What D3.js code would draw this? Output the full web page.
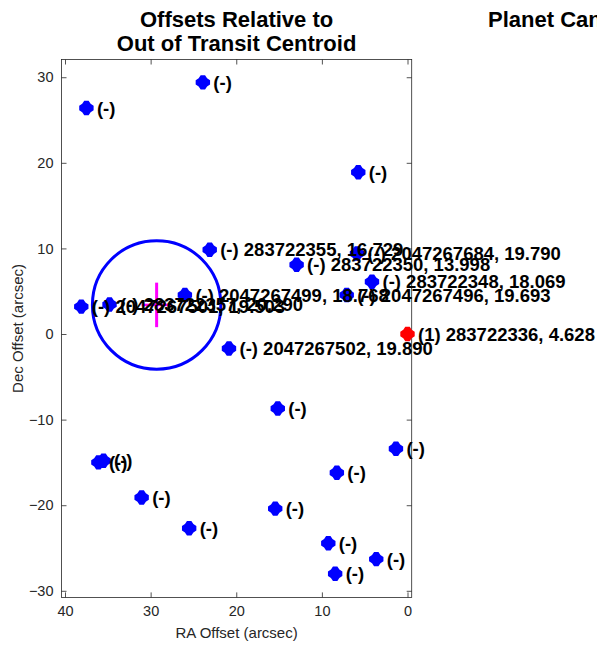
<!DOCTYPE html>
<html><head><meta charset="utf-8">
<script src="https://cdn.jsdelivr.net/npm/d3@7"></script>
<style>body{margin:0;background:#fff}svg{display:block}text{font-family:"Liberation Sans",Arial,Helvetica,sans-serif}</style>
</head><body><svg id="c" width="597" height="649"></svg>
<script>
const raOffsets  = [37.5, 23.9, 5.75, 23.1, 5.9, 12.95, 4.15, 38.1, 34.8, 26.0, 7.1, 20.85, 15.15, 1.35, 36.1, 35.5, 8.25, 31.05, 15.45, 25.5, 9.25, 3.65, 8.45, 0];
const decOffsets = [26.4, 29.4, 18.9, 9.85, 9.4, 8.1, 6.1, 3.2, 3.45, 4.55, 4.55, -1.7, -8.7, -13.4, -15.0, -14.8, -16.2, -19.1, -20.4, -22.7, -24.45, -26.3, -28.0, 0];
const pointLabels = ["(-)", "(-)", "(-)", "(-) 283722355, 16.729", "(-) 2047267684, 19.790", "(-) 283722350, 13.998",
  "(-) 283722348, 18.069", "(-) 2047267501, 19.503", "(-) 283722357, 20.290", "(-) 2047267499, 18.768",
  "(-) 2047267496, 19.693", "(-) 2047267502, 19.890", "(-)", "(-)", "(-)", "(-)", "(-)", "(-)", "(-)", "(-)", "(-)", "(-)", "(-)",
  "(1) 283722336, 4.628"];
const pointColors = raOffsets.map((d, i) => i === raOffsets.length - 1 ? "#ff0000" : "#0000ff");
const centroid = {ra: 29.3, dec: 3.4, raErr: 1.75, decErr: 2.6, radius: 7.5};
const xTicks = [40, 30, 20, 10, 0];
const yTicks = [-30, -20, -10, 0, 10, 20, 30];
const titleLines = ["Offsets Relative to", "Out of Transit Centroid"];
const sideTitle = "Planet Candidate 1";

const svg = d3.select("#c");
const L = 61.5, R = 411.7, T = 59.5, B = 597.4;
const x = d3.scaleLinear().domain([40.41, -0.49]).range([L, R]);
const y = d3.scaleLinear().domain([-30.77, 32.07]).range([B, T]);
const axCol = "#262626";

svg.append("rect").attr("x", L).attr("y", T).attr("width", R - L).attr("height", B - T)
  .attr("fill", "none").attr("stroke", axCol).attr("stroke-width", 0.8);

const tl = 5;
const gB = svg.append("g").attr("transform", `translate(0,${B})`)
  .call(d3.axisBottom(x).tickValues(xTicks).tickSizeInner(-tl).tickSizeOuter(0).tickPadding(8));
const gT = svg.append("g").attr("transform", `translate(0,${T})`)
  .call(d3.axisTop(x).tickValues(xTicks).tickSizeInner(-tl).tickSizeOuter(0).tickFormat(""));
const gL = svg.append("g").attr("transform", `translate(${L},0)`)
  .call(d3.axisLeft(y).tickValues(yTicks).tickSizeInner(-tl).tickSizeOuter(0).tickPadding(8));
const gR = svg.append("g").attr("transform", `translate(${R},0)`)
  .call(d3.axisRight(y).tickValues(yTicks).tickSizeInner(-tl).tickSizeOuter(0).tickFormat(""));
[gB, gT, gL, gR].forEach(g => {
  g.select(".domain").remove();
  g.selectAll("line").attr("stroke", axCol).attr("stroke-width", 0.8);
  g.selectAll("text").attr("fill", axCol).style("font-size", "14.5px");
});

svg.append("text").attr("x", (L + R) / 2).attr("y", 638).attr("text-anchor", "middle")
  .attr("fill", axCol).style("font-size", "15px").text("RA Offset (arcsec)");
svg.append("text").attr("transform", `translate(23,${(T + B) / 2}) rotate(-90)`).attr("text-anchor", "middle")
  .attr("fill", axCol).style("font-size", "15px").text("Dec Offset (arcsec)");

titleLines.forEach((t, i) => svg.append("text").attr("x", (L + R) / 2).attr("y", 27 + i * 23.5)
  .attr("text-anchor", "middle").style("font-size", "22px").style("font-weight", "bold").text(t));
svg.append("text").attr("x", 488).attr("y", 27).style("font-size", "22px").style("font-weight", "bold")
  .text(sideTitle);

const pxPerUnit = Math.abs(x(1) - x(0));
svg.append("circle").attr("cx", x(centroid.ra)).attr("cy", y(centroid.dec)).attr("r", centroid.radius * pxPerUnit)
  .attr("fill", "none").attr("stroke", "#0000ff").attr("stroke-width", 3);
svg.append("line").attr("x1", x(centroid.ra)).attr("x2", x(centroid.ra))
  .attr("y1", y(centroid.dec - centroid.decErr)).attr("y2", y(centroid.dec + centroid.decErr))
  .attr("stroke", "#ff00ff").attr("stroke-width", 3);
svg.append("line").attr("x1", x(centroid.ra - centroid.raErr)).attr("x2", x(centroid.ra + centroid.raErr))
  .attr("y1", y(centroid.dec)).attr("y2", y(centroid.dec))
  .attr("stroke", "#ff00ff").attr("stroke-width", 2.5);

const plusSym = {draw(ctx, size) {
  const a = 7.2, b = 2.2, c = 4.2;
  ctx.moveTo(-b, -a); ctx.lineTo(b, -a); ctx.lineTo(c, -c); ctx.lineTo(a, -b); ctx.lineTo(a, b);
  ctx.lineTo(c, c); ctx.lineTo(b, a); ctx.lineTo(-b, a); ctx.lineTo(-c, c); ctx.lineTo(-a, b);
  ctx.lineTo(-a, -b); ctx.lineTo(-c, -c); ctx.closePath();
}};
const idx = d3.range(raOffsets.length);
svg.append("g").selectAll("path").data(idx).join("path")
  .attr("transform", i => `translate(${x(raOffsets[i])},${y(decOffsets[i])})`)
  .attr("d", d3.symbol().type(plusSym)).attr("fill", i => pointColors[i]);
svg.append("g").selectAll("text").data(idx).join("text")
  .attr("x", i => x(raOffsets[i]) + 10.5).attr("y", i => y(decOffsets[i]) + 6.5)
  .style("font-size", "18.5px").style("font-weight", "bold").attr("fill", "#000")
  .text(i => pointLabels[i]);
</script></body></html>
